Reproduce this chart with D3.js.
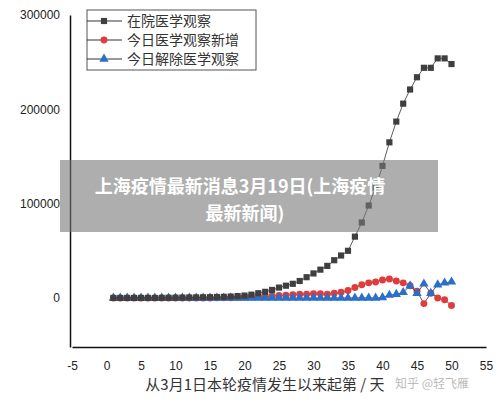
<!DOCTYPE html>
<html><head><meta charset="utf-8">
<script src="https://cdn.jsdelivr.net/npm/d3@7"></script>
<style>body{margin:0;background:#fff}</style></head>
<body><svg id="c" width="500" height="403"></svg>
<script>
const days = d3.range(1, 51);
// 在院医学观察
const inHospital = [0,0,0,0,0,0,0,100,200,300,400,500,600,700,800,1000,1200,1500,2000,2500,3500,5000,6500,8500,11000,13000,15000,18000,22000,26000,30000,34000,40000,45000,50000,65000,80000,98000,117000,140000,165000,187000,206000,221000,234000,244000,244000,254000,254000,248000];
// 今日医学观察新增
const newObs = [0,0,0,0,0,0,0,0,0,0,0,0,0,0,0,100,200,300,500,800,1000,1200,1500,2000,2500,3000,3500,4000,4000,4500,4500,4000,5000,6000,8000,11000,14000,16000,17000,19000,20000,18000,16000,13000,7000,-6000,5000,0,-2000,-8000];
// 今日解除医学观察
const released = [0,0,0,0,0,0,0,0,0,0,0,0,0,0,0,0,0,0,0,0,0,0,0,0,0,0,0,0,0,0,0,0,0,0,0,0,0,0,0,500,3000,4000,6000,13000,5000,15000,5000,14000,16000,17000];
const xTicks = [-5,0,5,10,15,20,25,30,35,40,45,50,55];
const yTicks = [0,100000,200000,300000];
const seriesNames = ['在院医学观察','今日医学观察新增','今日解除医学观察'];
const colors = ['#3f3f3f','#e03c3c','#2a6fc9'];

const svg = d3.select('#c');
const x = d3.scaleLinear().domain([-5,55]).range([72,486]);
const y = d3.scaleLinear().domain([-52000,300000]).range([347,15]);
const font = '"Liberation Sans", Arial, sans-serif';

svg.append('g').attr('transform','translate(0,347)')
  .call(d3.axisBottom(x).tickValues(xTicks).tickSize(0).tickPadding(14).tickFormat(d => String(d)))
  .call(g => g.selectAll('text').attr('font-size',12).attr('font-family',font).attr('fill','#222'))
  .call(g => g.select('.domain').attr('stroke','#111').attr('stroke-width',1.5));
svg.append('g').attr('transform','translate(70,0)')
  .call(d3.axisLeft(y).tickValues(yTicks).tickSize(0).tickPadding(10).tickFormat(d3.format('d')))
  .call(g => g.selectAll('text').attr('font-size',12).attr('font-family',font).attr('fill','#222'))
  .call(g => g.select('.domain').attr('stroke','#111').attr('stroke-width',1.5));

const line = d3.line().x((d,i) => x(days[i])).y(d => y(d));
const data = [inHospital, newObs, released];
const sym = [d3.symbolSquare, d3.symbolCircle, d3.symbolTriangle];
[1,2,0].forEach(k => {
  svg.append('path').datum(data[k]).attr('d', line).attr('fill','none').attr('stroke','#333').attr('stroke-width',0.8);
  svg.append('g').selectAll('path').data(data[k]).join('path')
    .attr('transform',(d,i) => `translate(${x(days[i])},${y(d)})`)
    .attr('d', d3.symbol(sym[k], 38)).attr('fill', colors[k]);
});

// legend
const lg = svg.append('g').attr('transform','translate(87,10)');
lg.append('rect').attr('width',169).attr('height',60).attr('fill','#fff').attr('stroke','#555');
seriesNames.forEach((n,i) => {
  const yy = 11 + i*19;
  lg.append('line').attr('x1',0).attr('x2',35).attr('y1',yy).attr('y2',yy).attr('stroke','#333');
  lg.append('path').attr('transform',`translate(17,${yy})`).attr('d', d3.symbol(sym[i], 38)).attr('fill', colors[i]);
  lg.append('text').attr('x',40).attr('y',yy+5).text(n).attr('font-size',14)
    .attr('font-family','"Noto Sans CJK SC", serif').attr('fill','#333');
});

svg.append('text').attr('x',265).attr('y',390).attr('text-anchor','middle')
  .attr('font-size',15).attr('font-family','"Noto Sans CJK SC", sans-serif').attr('fill','#333')
  .text('从3月1日本轮疫情发生以来起第 / 天');
svg.append('text').attr('x',395).attr('y',388).attr('font-size',12)
  .attr('font-family','"Noto Sans CJK SC", sans-serif').attr('fill','#bbb').text('知乎 @轻飞雁');

// title banner overlay
svg.append('rect').attr('x',60).attr('y',160).attr('width',378).attr('height',72).attr('fill','rgba(120,120,120,0.6)');
const tt = svg.append('text').attr('text-anchor','middle').attr('font-size',18).attr('font-weight','bold')
  .attr('font-family','"Noto Sans CJK SC", sans-serif').attr('fill','#fff');
tt.append('tspan').attr('x',240).attr('y',193).text('上海疫情最新消息3月19日(上海疫情');
tt.append('tspan').attr('x',245).attr('y',220).text('最新新闻)');
</script></body></html>
